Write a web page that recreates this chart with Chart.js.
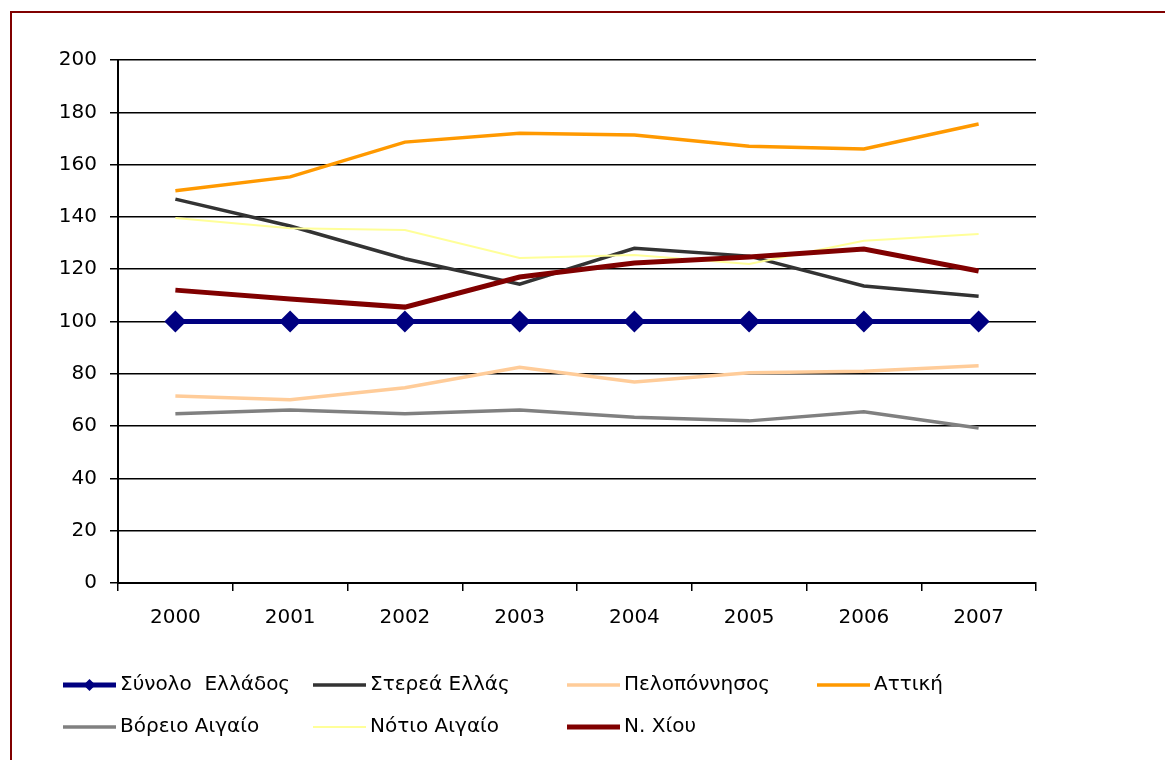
<!DOCTYPE html>
<html>
<head>
<meta charset="utf-8">
<script src="https://cdn.jsdelivr.net/npm/chart.js@4/dist/chart.umd.min.js"></script>
<style>
  html, body { margin: 0; padding: 0; background: #fff; }
  #wrap { position: relative; width: 1165px; height: 760px; overflow: hidden; }
  #frame { position: absolute; left: 10px; top: 11px; width: 1200px; height: 800px;
           border-top: 2px solid #800000; border-left: 2px solid #800000; box-sizing: border-box; }
  #c { position: absolute; left: 0; top: 0; }
</style>
</head>
<body>
<div id="wrap">
  <div id="frame"></div>
  <canvas id="c" width="1165" height="760"></canvas>
</div>
<script>
const years = ['2000', '2001', '2002', '2003', '2004', '2005', '2006', '2007'];
const synoloEllados = [100, 100, 100, 100, 100, 100, 100, 100];
const stereaEllas   = [146.8, 136.5, 124, 114.3, 128, 125, 113.6, 109.7];
const peloponnisos  = [71.5, 70.1, 74.7, 82.5, 76.9, 80.4, 81, 83.1];
const attiki        = [150, 155.3, 168.6, 172, 171.3, 167, 166, 175.5];
const voreioAigaio  = [64.7, 66.2, 64.7, 66.2, 63.4, 62, 65.5, 59.3];
const notioAigaio   = [139.6, 135.7, 135, 124.3, 125.4, 122, 130.9, 133.5];
const nChiou        = [112, 108.6, 105.5, 117, 122.4, 124.7, 127.7, 119.3];
const seriesNames = ['Σύνολο  Ελλάδος', 'Στερεά Ελλάς', 'Πελοπόννησος', 'Αττική', 'Βόρειο Αιγαίο', 'Νότιο Αιγαίο', 'Ν. Χίου'];
const yTicks = [0, 20, 40, 60, 80, 100, 120, 140, 160, 180, 200];

const FONT = '"DejaVu Sans", sans-serif';
const styles = [
  { color: '#000080', width: 5, point: 'rectRot', radius: 11 },
  { color: '#333333', width: 3.5 },
  { color: '#FFCC99', width: 3.5 },
  { color: '#FF9900', width: 3.5 },
  { color: '#808080', width: 3.5 },
  { color: '#FFFF99', width: 2 },
  { color: '#800000', width: 5 }
];
const seriesData = [synoloEllados, stereaEllas, peloponnisos, attiki, voreioAigaio, notioAigaio, nChiou];

const datasets = seriesData.map((d, i) => ({
  label: seriesNames[i],
  data: d,
  borderColor: styles[i].color,
  backgroundColor: styles[i].color,
  borderWidth: styles[i].width,
  pointStyle: styles[i].point || 'circle',
  pointRadius: styles[i].radius || 0,
  pointHoverRadius: styles[i].radius || 0,
  pointBorderWidth: 0,
  tension: 0,
  fill: false,
  order: 6 - i
}));

// legend layout (styling only)
const legendCols = [63, 313, 567, 817];
const legendRows = [685, 727];
const legendLine = 53;

const legendPlugin = {
  id: 'customLegend',
  afterDraw(chart) {
    const ctx = chart.ctx;
    ctx.save();
    chart.data.datasets.forEach((ds, i) => {
      const col = i % 4, row = Math.floor(i / 4);
      const x = legendCols[col], y = legendRows[row];
      ctx.strokeStyle = ds.borderColor;
      ctx.lineWidth = ds.borderWidth;
      ctx.beginPath();
      ctx.moveTo(x, y);
      ctx.lineTo(x + legendLine, y);
      ctx.stroke();
      if (ds.pointStyle === 'rectRot') {
        const r = 6;
        const cx = x + legendLine / 2;
        ctx.fillStyle = ds.borderColor;
        ctx.beginPath();
        ctx.moveTo(cx, y - r); ctx.lineTo(cx + r, y); ctx.lineTo(cx, y + r); ctx.lineTo(cx - r, y);
        ctx.closePath();
        ctx.fill();
      }
      ctx.fillStyle = '#000';
      ctx.font = '20px ' + FONT;
      ctx.textBaseline = 'middle';
      ctx.textAlign = 'left';
      ctx.fillText(ds.label, x + legendLine + 4, y);
    });
    ctx.restore();
  }
};

new Chart(document.getElementById('c'), {
  type: 'line',
  data: { labels: years, datasets },
  options: {
    responsive: false,
    animation: false,
    events: [],
    layout: { padding: { top: 60, left: 0, right: 129, bottom: 0 } },
    plugins: { legend: { display: false }, tooltip: { enabled: false }, title: { display: false } },
    scales: {
      x: {
        offset: true,
        grid: { display: true, offset: true, drawOnChartArea: false, drawTicks: true, tickLength: 8, color: '#000', lineWidth: 1.5 },
        border: { display: true, color: '#000', width: 2 },
        ticks: { color: '#000', font: { family: FONT, size: 20 }, padding: 15, maxRotation: 0 },
        afterFit(axis) { axis.height = 177; }
      },
      y: {
        min: 0, max: 200,
        afterBuildTicks(axis) { axis.ticks = yTicks.map(v => ({ value: v })); },
        grid: { color: '#000', lineWidth: 1.5, tickLength: 8, drawTicks: true },
        border: { display: true, color: '#000', width: 2 },
        ticks: { color: '#000', font: { family: FONT, size: 20 }, padding: 13 },
        afterFit(axis) { axis.width = 118; }
      }
    }
  },
  plugins: [legendPlugin]
});
</script>
</body>
</html>
